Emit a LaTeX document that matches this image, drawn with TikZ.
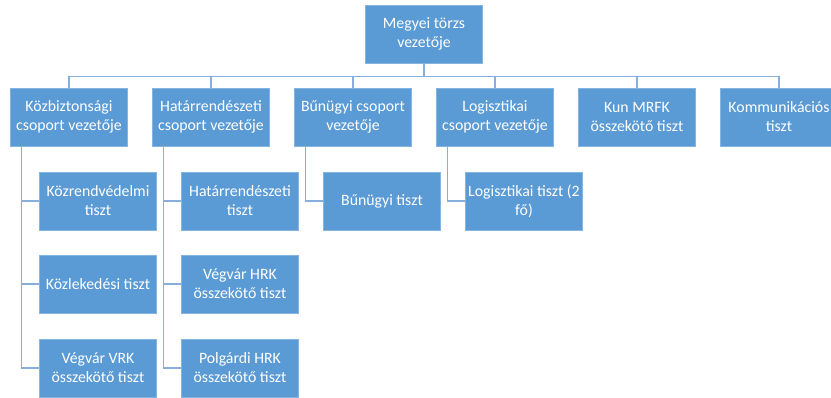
\documentclass[tikz,border=0pt]{standalone}
\usepackage{fontspec}
\setmainfont{Carlito}
\definecolor{boxblue}{RGB}{91,155,213}
\definecolor{lineblue}{RGB}{135,175,222}
\begin{document}
\begin{tikzpicture}[x=1pt,y=-1pt]
  \tikzset{box/.style = {fill=boxblue, draw=boxblue!75!white, line width=0.5pt, text=white, minimum width=117pt, minimum height=58pt, inner sep=0pt, align=center, font=\fontsize{15.8}{19}\selectfont}}
  \tikzset{link/.style = {draw=lineblue, line width=1.1pt}}

  \def\rowb{117}
  \def\rowc{201}
  \def\rowd{284}
  \def\rowe{368}

  \useasboundingbox (0,0) rectangle (831,397);

  % Head
  \node[box] (head) at (424,34) {Megyei törzs\\vezetője};

  % Groups
  \node[box] (kozb) at (69,\rowb) {Közbiztonsági\\csoport vezetője};
  \node[box] (hat) at (211,\rowb) {Határrendészeti\\csoport vezetője};
  \node[box] (bun) at (353,\rowb) {Bűnügyi csoport\\vezetője};
  \node[box] (log) at (495,\rowb) {Logisztikai\\csoport vezetője};
  \node[box] (kun) at (637,\rowb) {Kun MRFK\\összekötő tiszt};
  \node[box] (kom) at (779,\rowb) {Kommunikációs\\tiszt};

  \foreach \g in {kozb,hat,bun,log,kun,kom}
    \draw[link] (head.south) -- ++(0,13) -| (\g.north);

  % Officers
  \node[box] (kozb1) at (98,\rowc) {Közrendvédelmi\\tiszt};
  \node[box] (kozb2) at (98,\rowd) {Közlekedési tiszt};
  \node[box] (kozb3) at (98,\rowe) {Végvár VRK\\összekötő tiszt};
  \node[box] (hat1) at (240,\rowc) {Határrendészeti\\tiszt};
  \node[box] (hat2) at (240,\rowd) {Végvár HRK\\összekötő tiszt};
  \node[box] (hat3) at (240,\rowe) {Polgárdi HRK\\összekötő tiszt};
  \node[box] (bun1) at (382,\rowc) {Bűnügyi tiszt};
  \node[box] (log1) at (524,\rowc) {Logisztikai tiszt (2\\fő)};

  \foreach \c in {kozb1,kozb2,kozb3}
    \draw[link] ([xshift=11pt]kozb.south west) |- (\c.west);
  \foreach \c in {hat1,hat2,hat3}
    \draw[link] ([xshift=11pt]hat.south west) |- (\c.west);
  \draw[link] ([xshift=11pt]bun.south west) |- (bun1.west);
  \draw[link] ([xshift=11pt]log.south west) |- (log1.west);
\end{tikzpicture}
\end{document}
